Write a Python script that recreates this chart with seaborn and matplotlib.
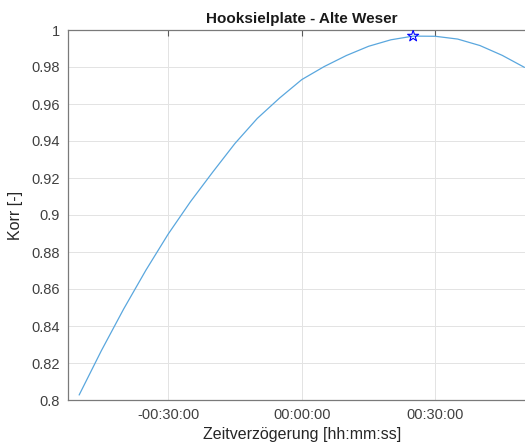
import matplotlib
matplotlib.use("Agg")
import matplotlib.pyplot as plt
import seaborn as sns
import pandas as pd

# Time lag in minutes and correlation values
lag_min = [-50, -45, -40, -35, -30, -25, -20, -15, -10, -5, 0, 5, 10, 15, 20, 25, 30, 35, 40, 45, 50]
korr = [0.8027, 0.8267, 0.8492, 0.8702, 0.8897, 0.9072, 0.9232, 0.9387, 0.9522, 0.9632, 0.9732,
        0.9802, 0.9862, 0.9912, 0.9947, 0.9967, 0.9966, 0.9951, 0.9916, 0.9863, 0.9798]
peak_lag = [25]
peak_korr = [0.9967]

xticks = [-30, 0, 30]
xtick_labels = ["-00:30:00", "00:00:00", "00:30:00"]
yticks = [0.8, 0.82, 0.84, 0.86, 0.88, 0.9, 0.92, 0.94, 0.96, 0.98, 1.0]
ytick_labels = ["0.8", "0.82", "0.84", "0.86", "0.88", "0.9", "0.92", "0.94", "0.96", "0.98", "1"]

sns.set_style("whitegrid")
plt.rcParams["font.family"] = ["Liberation Sans", "DejaVu Sans"]

df = pd.DataFrame({"lag": lag_min, "korr": korr})
dfp = pd.DataFrame({"lag": peak_lag, "korr": peak_korr})

fig = plt.figure(figsize=(5.25, 4.45), dpi=100)
ax = fig.add_axes([68 / 525, 45 / 445, (535.6 - 68) / 525, 370 / 445])

sns.lineplot(data=df, x="lag", y="korr", ax=ax, color="#5aa7de", linewidth=0.9)
sns.scatterplot(data=dfp, x="lag", y="korr", ax=ax, marker="*", s=70,
                facecolor="none", edgecolor="blue", linewidth=0.8, zorder=5)

ax.set_xlim(-52.5, 52.5)
ax.set_ylim(0.8, 1.0)
ax.set_xticks(xticks)
ax.set_xticklabels(xtick_labels)
ax.set_yticks(yticks)
ax.set_yticklabels(ytick_labels)

ax.grid(True, color="#e3e3e3", linewidth=0.7)
for s in ax.spines.values():
    s.set_color("#7a7a7a")
    s.set_linewidth(0.9)
ax.tick_params(axis="both", direction="in", length=4, width=0.8, color="#5a5a5a",
               labelsize=10.5, labelcolor="#404040", top=True, right=True, pad=6)

ax.set_title("Hooksielplate - Alte Weser", fontsize=11, fontweight="bold", color="#1a1a1a", pad=5)
ax.set_xlabel("Zeitverzögerung [hh:mm:ss]", fontsize=11.5, color="#262626", labelpad=3)
ax.set_ylabel("Korr [-]", fontsize=11.5, color="#262626", labelpad=6)

fig.savefig("out.png", dpi=100)
